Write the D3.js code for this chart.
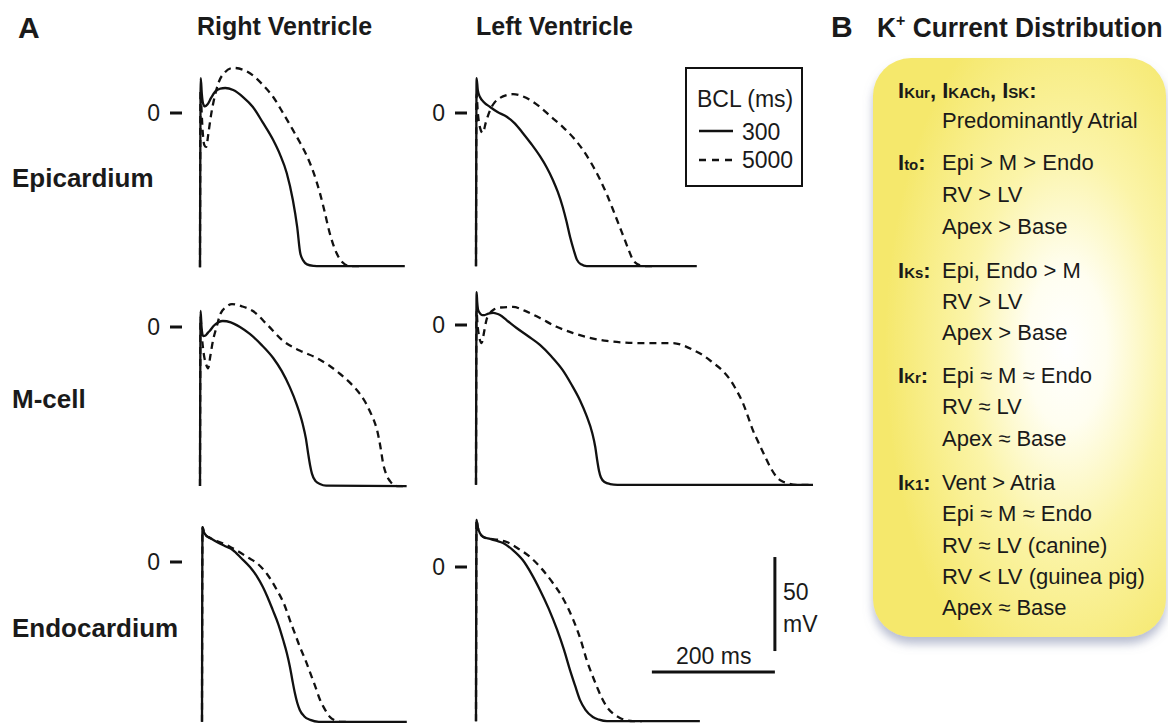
<!DOCTYPE html>
<html lang="en">
<meta charset="utf-8">
<head>
	<title>Ventricular action potentials and K+ current distribution</title>
</head>

<style type="text/css">
	body { margin: 0; background: white; }
	text { font-family: 'Liberation Sans', Arial, sans-serif; fill: #1a1a1a; }
	.panelLetter { font-weight: 700; font-size: 30px; }
	.colTitle { font-weight: 700; font-size: 25px; }
	.rowTitle { font-weight: 700; font-size: 26px; }
	.zero { font-size: 23px; }
	.legendText, .scaleText { font-size: 23px; }
	.boxText { font-size: 22px; }
	.boxLabel { font-size: 22px; font-weight: 700; }
	.trace { fill: none; stroke: #111; stroke-width: 2.3; stroke-linejoin: round; }
	.slow { stroke-dasharray: 7,5; }
</style>

<script src="https://cdnjs.cloudflare.com/ajax/libs/d3/7.8.5/d3.min.js"></script>

<body>
	<script type="text/javascript">

		// action potentials, [time (ms), voltage (mV)], BCL 300 ms and 5000 ms
		var rvEpi300 = [[0,-82],[1.2,18.6],[3,10],[5,5],[8,3.5],[12,4.5],[18,8],[25,11.5],[33,13],[41,13.3],[54,12.2],[70,8.5],[86,3.2],[102,-5],[119,-14.4],[130,-22],[141,-31.9],[151,-46.3],[158,-60.6],[163,-74.5],[168,-78.5],[174,-80.5],[185,-81.3],[195,-81.5],[333,-81.5]];
		var rvEpi5000 = [[0,-82],[0.8,12],[2,5],[4,-8],[7,-17],[10,-18],[14,-10],[18,-1],[22,6],[30,16],[40,21.5],[54,24],[70,23],[86,20],[102,15],[119,8.5],[135,0],[151,-9],[163,-16],[174,-23],[185,-32],[195,-42.6],[203,-53],[211,-64],[222,-74.5],[232,-79.5],[244,-81.5],[260,-81.5]];

		var lvEpi300 = [[0,-81.5],[1,18.6],[3,12],[6.5,8.5],[12,6],[23,3.2],[35,0.5],[50,-2],[63,-5.5],[76,-10.6],[90,-16.5],[104,-23],[115,-29],[125,-35.6],[133,-42],[141,-50],[147,-57.5],[153,-66],[159,-73],[164,-78],[171,-80.5],[180,-81.4],[359,-81.4]];
		var lvEpi5000 = [[0,-81.5],[0.8,10],[3,0],[6,-7],[11,-10.6],[16,-5],[23,1.6],[30,5.5],[39,8],[50,9.5],[60,10],[75,9],[90,6.5],[104,3.2],[122,-2],[141,-7.4],[158,-13],[174,-19.7],[188,-27],[202,-35.6],[213,-43.5],[223,-51.6],[233,-60],[242,-67.5],[249,-73.5],[255,-78],[263,-80.5],[272,-81.4],[290,-81.4]];

		var rvM300 = [[0,-84.6],[1,8.5],[2.5,0],[5,-4.8],[9,-4.5],[13,-3],[16,-2],[22,0.5],[30,2.5],[37,3.2],[50,2.5],[65,0],[81,-3.7],[100,-9.5],[119,-16.5],[133,-23.5],[146,-32],[157,-41],[167,-51.6],[172,-59],[176,-67.6],[179,-73.5],[182,-78],[188,-82],[195,-83.5],[205,-84.4],[336,-84.6]];
		var rvM5000 = [[0,-84.6],[0.8,5],[3,-5],[6,-14],[10,-20],[13,-22],[17,-15],[21,-7.4],[27,0],[33,6.9],[42,10.5],[52,12.2],[68,11],[86,8.5],[110,1],[135,-7.4],[162,-12.5],[190,-16.5],[210,-20.5],[228,-25],[245,-30],[260,-35.6],[268,-39.5],[276,-44.7],[282,-49],[288,-55],[293,-63],[298,-73],[303,-78.5],[309,-82],[320,-84.6],[336,-84.6]];

		var lvM300 = [[0,-85],[1,17.5],[2,12],[3.5,8],[7,6],[10,5.3],[14,5.3],[20,6],[28,6.4],[34,6],[39,5.3],[50,2.5],[66,-1.6],[85,-6],[104,-10.6],[122,-16.5],[141,-24],[155,-31.5],[169,-40],[180,-48.5],[189,-57.4],[194,-65],[197,-71.8],[200,-77.5],[203,-81],[209,-83.5],[218,-84.6],[230,-85],[548,-85]];
		var lvM5000 = [[0,-85],[0.8,8],[2.5,0],[5,-6],[9.2,-9.6],[13,-4],[17,2.7],[22,6],[28,8],[40,9.3],[60,9.6],[80,7.5],[104,3.7],[130,-0.8],[158,-4.3],[185,-6.8],[213,-8.5],[240,-9.3],[267,-9.6],[295,-9.6],[320,-9.6],[338,-11],[353,-13.3],[370,-16.3],[385,-20],[400,-24],[413,-29],[424,-35],[434,-41.5],[442,-48.5],[450,-55.8],[460,-63],[470,-70],[480,-76.5],[489,-80.9],[497,-83],[505,-84],[520,-85],[548,-85]];

		var rvEndo300 = [[0,-85],[0.8,18.6],[3,16],[7,14],[13,12.8],[25,10.5],[37,8.5],[50,6.4],[64,2],[78,-2.7],[89,-7.5],[99,-13.3],[107,-19],[115,-25.5],[124,-33],[132,-41.5],[138,-48.5],[143,-55.8],[147,-63],[151,-69.7],[155,-75],[159,-78.7],[166,-82],[176,-84],[190,-85],[333,-85]];
		var rvEndo5000 = [[0,-85],[0.8,18.6],[3,16],[7,14],[13,12.8],[25,11],[37,9.5],[46,8],[60,5.5],[74,2.5],[89,-0.5],[106,-6.5],[122,-15],[133,-22],[143,-31],[151,-38],[159,-45],[168,-52],[176,-59],[184,-66],[192,-73.4],[200,-78.5],[208,-82.4],[216,-84.2],[224,-85],[240,-85]];

		var lvEndo300 = [[0,-82],[0.8,25],[3,21],[6.5,18],[12,16],[23,15],[33,14],[44,12.8],[60,9],[76,3.7],[90,-3.5],[104,-12.2],[118,-22],[132,-33.5],[143,-44],[153,-55],[161,-63],[169,-70.7],[178,-76],[190,-79.8],[200,-81.2],[213,-82],[364,-82]];
		var lvEndo5000 = [[0,-82],[0.8,25],[3,21],[6.5,18],[12,16],[23,15],[35,14.5],[50,13.3],[70,9.5],[88,5.3],[107,-1],[125,-8.5],[142,-17],[158,-28],[170,-38.5],[180,-49.5],[189,-57.5],[197,-64],[205,-70],[213,-74.5],[223,-78],[234,-80.3],[244,-81.5],[255,-82],[270,-82]];

		var columnTitles = ["Right Ventricle", "Left Ventricle"];
		var rowTitles = ["Epicardium", "M-cell", "Endocardium"];
		var bclValues = ["300", "5000"];

		// panel B: [current name, subscript], lines of text
		var kCurrents = [
			{ label: [["I","Kur"],["I","KACh"],["I","SK"]], lines: ["Predominantly Atrial"] },
			{ label: [["I","to"]], lines: ["Epi > M > Endo", "RV > LV", "Apex > Base"] },
			{ label: [["I","Ks"]], lines: ["Epi, Endo > M", "RV > LV", "Apex > Base"] },
			{ label: [["I","Kr"]], lines: ["Epi \u2248 M \u2248 Endo", "RV \u2248 LV", "Apex \u2248 Base"] },
			{ label: [["I","K1"]], lines: ["Vent > Atria", "Epi \u2248 M \u2248 Endo", "RV \u2248 LV (canine)", "RV < LV (guinea pig)", "Apex \u2248 Base"] }
		];

		var width = 1168, height = 724;
		var pxPerMs = 123 / 200,
			pxPerMv = 94 / 50;

		var panels = [
			{ x0: 200, y0: 113, fast: rvEpi300,  slow: rvEpi5000,  zeroDx: 40 },
			{ x0: 476, y0: 113, fast: lvEpi300,  slow: lvEpi5000,  zeroDx: 31 },
			{ x0: 200, y0: 327, fast: rvM300,    slow: rvM5000,    zeroDx: 40 },
			{ x0: 476, y0: 325, fast: lvM300,    slow: lvM5000,    zeroDx: 31 },
			{ x0: 202, y0: 562, fast: rvEndo300, slow: rvEndo5000, zeroDx: 42 },
			{ x0: 476, y0: 567, fast: lvEndo300, slow: lvEndo5000, zeroDx: 31 }
		];

		var svg = d3.select("body")
					.append("svg")
					.attr("width", width)
					.attr("height", height);

		var defs = svg.append("defs");

		var glow = defs.append("radialGradient")
					   .attr("id", "glow")
					   .attr("cx", "0.66").attr("cy", "0.5").attr("r", "0.62");
		glow.append("stop").attr("offset", "0").attr("stop-color", "#ffffff");
		glow.append("stop").attr("offset", "0.22").attr("stop-color", "#fffef0");
		glow.append("stop").attr("offset", "0.55").attr("stop-color", "#fbf4a8");
		glow.append("stop").attr("offset", "1").attr("stop-color", "#f5e86c");

		var shadow = defs.append("filter")
						 .attr("id", "shadow")
						 .attr("x", "-10%").attr("y", "-10%")
						 .attr("width", "120%").attr("height", "125%");
		shadow.append("feDropShadow")
			  .attr("dx", 0).attr("dy", 7)
			  .attr("stdDeviation", 5)
			  .attr("flood-color", "#7f88ab")
			  .attr("flood-opacity", 0.55);

		// ---------- panel A ----------
		svg.append("text").attr("class", "panelLetter")
		   .attr("x", 18).attr("y", 38).text("A");

		svg.append("text").attr("class", "colTitle")
		   .attr("x", 197).attr("y", 35).text(columnTitles[0]);
		svg.append("text").attr("class", "colTitle")
		   .attr("x", 476).attr("y", 35).text(columnTitles[1]);

		var rowY = [187, 408, 637];
		rowTitles.forEach(function(t, i) {
			svg.append("text").attr("class", "rowTitle")
			   .attr("x", 12).attr("y", rowY[i]).text(t);
		});

		panels.forEach(function(p) {
			var x = d3.scaleLinear().domain([0, 200]).range([p.x0, p.x0 + 200 * pxPerMs]);
			var y = d3.scaleLinear().domain([0, 50]).range([p.y0, p.y0 - 50 * pxPerMv]);

			var line = d3.line()
						 .x(function(d) { return x(d[0]); })
						 .y(function(d) { return y(d[1]); })
						 .curve(d3.curveMonotoneX);

			// zero marker
			svg.append("text").attr("class", "zero")
			   .attr("text-anchor", "end")
			   .attr("x", x(0) - p.zeroDx)
			   .attr("y", y(0) + 8)
			   .text("0");
			svg.append("line")
			   .attr("x1", x(0) - p.zeroDx + 10).attr("x2", x(0) - p.zeroDx + 22)
			   .attr("y1", y(0)).attr("y2", y(0))
			   .attr("stroke", "#111").attr("stroke-width", 3);

			svg.append("path").datum(p.slow)
			   .attr("class", "trace slow")
			   .attr("d", line);
			svg.append("path").datum(p.fast)
			   .attr("class", "trace")
			   .attr("d", line);
		});

		// legend
		var lg = svg.append("g").attr("transform", "translate(686,68)");
		lg.append("rect")
		  .attr("width", 116).attr("height", 118)
		  .attr("fill", "white").attr("stroke", "#111").attr("stroke-width", 2);
		lg.append("text").attr("class", "legendText")
		  .attr("x", 11).attr("y", 39).text("BCL (ms)");
		bclValues.forEach(function(v, i) {
			lg.append("line")
			  .attr("class", i == 0 ? "trace" : "trace slow")
			  .attr("x1", 13).attr("x2", 47)
			  .attr("y1", 63 + i * 29).attr("y2", 63 + i * 29)
			  .style("stroke-dasharray", i == 0 ? null : "7,6");
			lg.append("text").attr("class", "legendText")
			  .attr("x", 56).attr("y", 72 + i * 28).text(v);
		});

		// scale bars (drawn in the lower left-ventricle panel's units)
		var sx = d3.scaleLinear().domain([0, 200]).range([476, 476 + 200 * pxPerMs]);
		var sy = d3.scaleLinear().domain([0, 50]).range([567, 567 - 50 * pxPerMv]);
		svg.append("line")
		   .attr("x1", sx(286)).attr("x2", sx(486))
		   .attr("y1", 672).attr("y2", 672)
		   .attr("stroke", "#111").attr("stroke-width", 3);
		svg.append("line")
		   .attr("x1", sx(486)).attr("x2", sx(486))
		   .attr("y1", sy(5.3)).attr("y2", sy(-44.7))
		   .attr("stroke", "#111").attr("stroke-width", 3);
		svg.append("text").attr("class", "scaleText")
		   .attr("x", 676).attr("y", 664).text("200 ms");
		svg.append("text").attr("class", "scaleText")
		   .attr("x", 783).attr("y", 600).text("50");
		svg.append("text").attr("class", "scaleText")
		   .attr("x", 783).attr("y", 632).text("mV");

		// ---------- panel B ----------
		svg.append("text").attr("class", "panelLetter")
		   .attr("x", 831).attr("y", 37).text("B");
		// title is a bit narrower than the plain font, squeeze it horizontally
		var title = svg.append("text").attr("class", "panelLetter")
					   .style("font-size", "28px")
					   .attr("transform", "translate(877,37) scale(0.94,1)");
		title.append("tspan").text("K");
		title.append("tspan").attr("dy", -11).style("font-size", "17px").text("+");
		title.append("tspan").attr("dy", 11).text(" Current Distribution");

		svg.append("rect")
		   .attr("x", 873).attr("y", 58)
		   .attr("width", 293).attr("height", 579)
		   .attr("rx", 38).attr("ry", 38)
		   .attr("fill", "url(#glow)")
		   .attr("filter", "url(#shadow)");

		var baselines = [[98, 128], [170, 202, 234], [278, 309, 340], [383, 414, 446], [490, 521, 553, 584, 615]];

		kCurrents.forEach(function(g, gi) {
			var ys = baselines[gi];
			var lab = svg.append("text").attr("class", "boxLabel")
						 .attr("x", 898).attr("y", ys[0]);
			g.label.forEach(function(part, pi) {
				lab.append("tspan").text(part[0]);
				lab.append("tspan").style("font-size", "15px").text(part[1]);
				lab.append("tspan").text(pi < g.label.length - 1 ? ", " : ":");
			});
			g.lines.forEach(function(t, li) {
				// first group puts its text on the line below the label
				var row = gi == 0 ? li + 1 : li;
				svg.append("text").attr("class", "boxText")
				   .attr("x", 942).attr("y", ys[row]).text(t);
			});
		});

	</script>
</body>
</html>
